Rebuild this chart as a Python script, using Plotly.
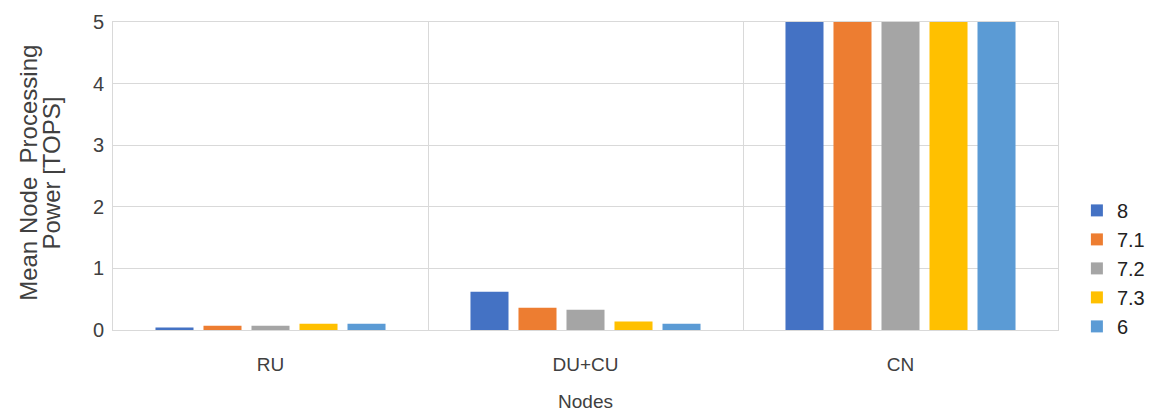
import plotly.graph_objects as go

nodes = ["RU", "DU+CU", "CN"]
series_names = ["8", "7.1", "7.2", "7.3", "6"]
vals_8 = [0.04, 0.62, 9.5]
vals_7_1 = [0.07, 0.36, 9.2]
vals_7_2 = [0.07, 0.33, 9.3]
vals_7_3 = [0.10, 0.14, 9.0]
vals_6 = [0.10, 0.10, 8.8]
colors = ["#4472C4", "#ED7D31", "#A5A5A5", "#FFC000", "#5B9BD5"]
y_title_lines = ["Mean Node  Processing", "Power [TOPS]"]

series_values = [vals_8, vals_7_1, vals_7_2, vals_7_3, vals_6]

fig = go.Figure()
for name, vals, col in zip(series_names, series_values, colors):
    fig.add_trace(go.Bar(name=name, x=nodes, y=vals, marker=dict(color=col, line=dict(width=0))))

# two-line rotated y-axis title, placed line by line for tight spacing
for i, line in enumerate(y_title_lines):
    fig.add_annotation(
        text=line, textangle=-90, showarrow=False,
        xref="paper", yref="paper", x=-0.089 + i * 0.024, y=0.51,
        xanchor="center", yanchor="middle",
        font=dict(size=24, color="#404040"),
    )

font = "Liberation Sans, Arial, sans-serif"
fig.update_layout(
    width=1165, height=417,
    margin=dict(l=113, r=107, t=22, b=87, autoexpand=False),
    paper_bgcolor="white", plot_bgcolor="white",
    barmode="group", bargap=0.238, bargroupgap=0.208,
    font=dict(family=font, size=18, color="#404040"),
    showlegend=True,
    legend=dict(x=1.02, xanchor="left", y=0.2, yanchor="middle",
                font=dict(size=20, color="#222222"), itemwidth=30,
                tracegroupgap=0),
    xaxis=dict(
        title=dict(text="Nodes", font=dict(size=19, color="#404040"), standoff=20),
        showgrid=True, gridcolor="#D9D9D9", tickson="boundaries",
        showline=True, linecolor="#D9D9D9", mirror=True, linewidth=1,
        ticks="", tickfont=dict(size=19, color="#404040"), ticklabelstandoff=17,
    ),
    yaxis=dict(
        range=[0, 5], dtick=1, showgrid=True, gridcolor="#D9D9D9",
        showline=True, linecolor="#D9D9D9", mirror=True, linewidth=1,
        ticks="", tickfont=dict(size=20, color="#404040"), zeroline=False,
        ticklabelstandoff=4,
    ),
)

fig.write_html("out.html")
